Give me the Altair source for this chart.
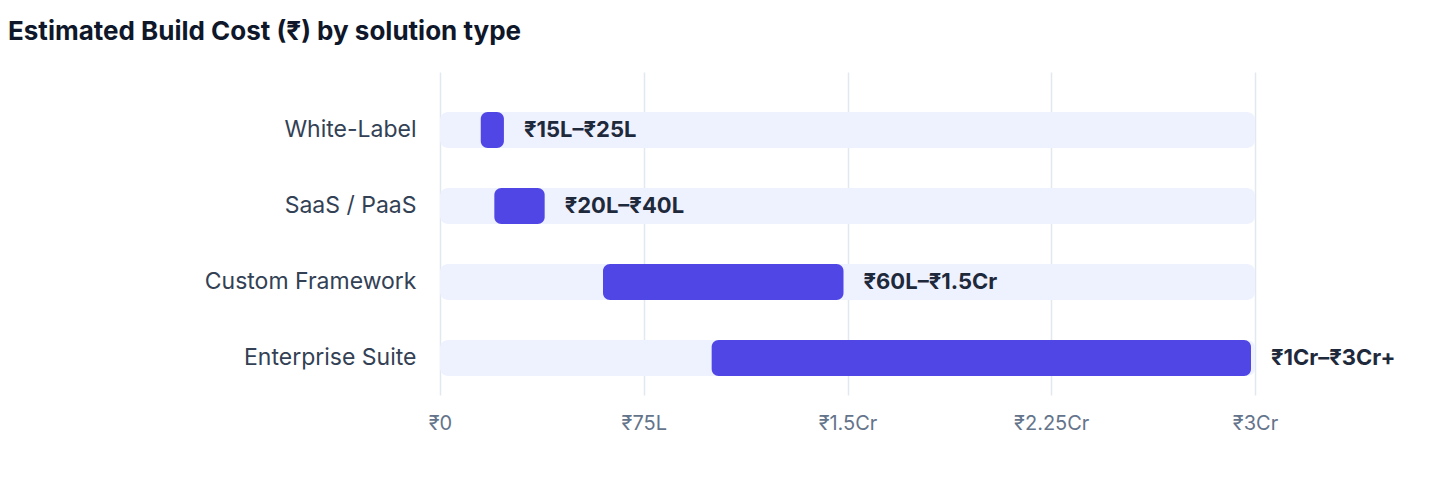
import altair as alt
import pandas as pd

categories = ["White-Label", "SaaS / PaaS", "Custom Framework", "Enterprise Suite"]
low = [15, 20, 60, 100]
high = [25, 40, 150, 300]
range_labels = ["₹15L–₹25L", "₹20L–₹40L", "₹60L–₹1.5Cr", "₹1Cr–₹3Cr+"]
tick_values = [0, 75, 150, 225, 300]
tick_labels = ["₹0", "₹75L", "₹1.5Cr", "₹2.25Cr", "₹3Cr"]
axis_max = 300

df = pd.DataFrame({"cat": categories, "low": low, "high": high, "label": range_labels})

expr = "''"
for v, l in reversed(list(zip(tick_values, tick_labels))):
    expr = f"datum.value == {v} ? '{l}' : ({expr})"

FONT = "Inter, Noto Sans, sans-serif"

xscale = alt.Scale(domain=[0, axis_max], nice=False, zero=True)
yscale = alt.Scale(domain=categories, paddingInner=0.526, paddingOuter=0.388, align=0.678)

x_axis = alt.Axis(values=tick_values, labelExpr=expr, title=None, domain=False, ticks=False,
                  grid=True, gridColor="#e2e8f0", gridWidth=1.5, labelColor="#64748b",
                  labelFontSize=20, labelPadding=18, labelFont=FONT, labelFlush=False)
y_axis = alt.Axis(title=None, domain=False, ticks=False, labelColor="#334155", labelFontSize=23,
                  labelPadding=24, labelFont=FONT, labelLimit=420, minExtent=432, maxExtent=432)

base = alt.Chart(df)

track = base.mark_bar(color="#eef2ff", cornerRadius=8).encode(
    y=alt.Y("cat:N", scale=yscale, axis=y_axis, sort=categories),
    x=alt.X("zero:Q", scale=xscale, axis=x_axis),
    x2=alt.X2("top:Q"),
).transform_calculate(zero="0", top=str(axis_max))

bars = base.mark_bar(color="#4f46e5", cornerRadius=7, x2Offset=-4).encode(
    y=alt.Y("cat:N", scale=yscale, sort=categories),
    x=alt.X("low:Q", scale=xscale),
    x2="high:Q",
)

text = base.mark_text(align="left", baseline="middle", dx=16, fontWeight="bold", fontSize=22,
                      color="#1e293b", font=FONT).encode(
    y=alt.Y("cat:N", scale=yscale, sort=categories),
    x=alt.X("high:Q", scale=xscale),
    text="label:N",
)

chart = alt.layer(track, bars, text).properties(
    width=815, height=323,
    padding={"left": 0, "top": 11, "right": 0, "bottom": 0},
    title=alt.TitleParams("Estimated Build Cost (₹) by solution type", anchor="start", frame="bounds",
                          fontSize=26, fontWeight="bold", color="#0f172a", font=FONT, offset=27),
).configure_view(stroke=None)

chart.save("out.html", embed_options={"renderer": "svg", "actions": False})
